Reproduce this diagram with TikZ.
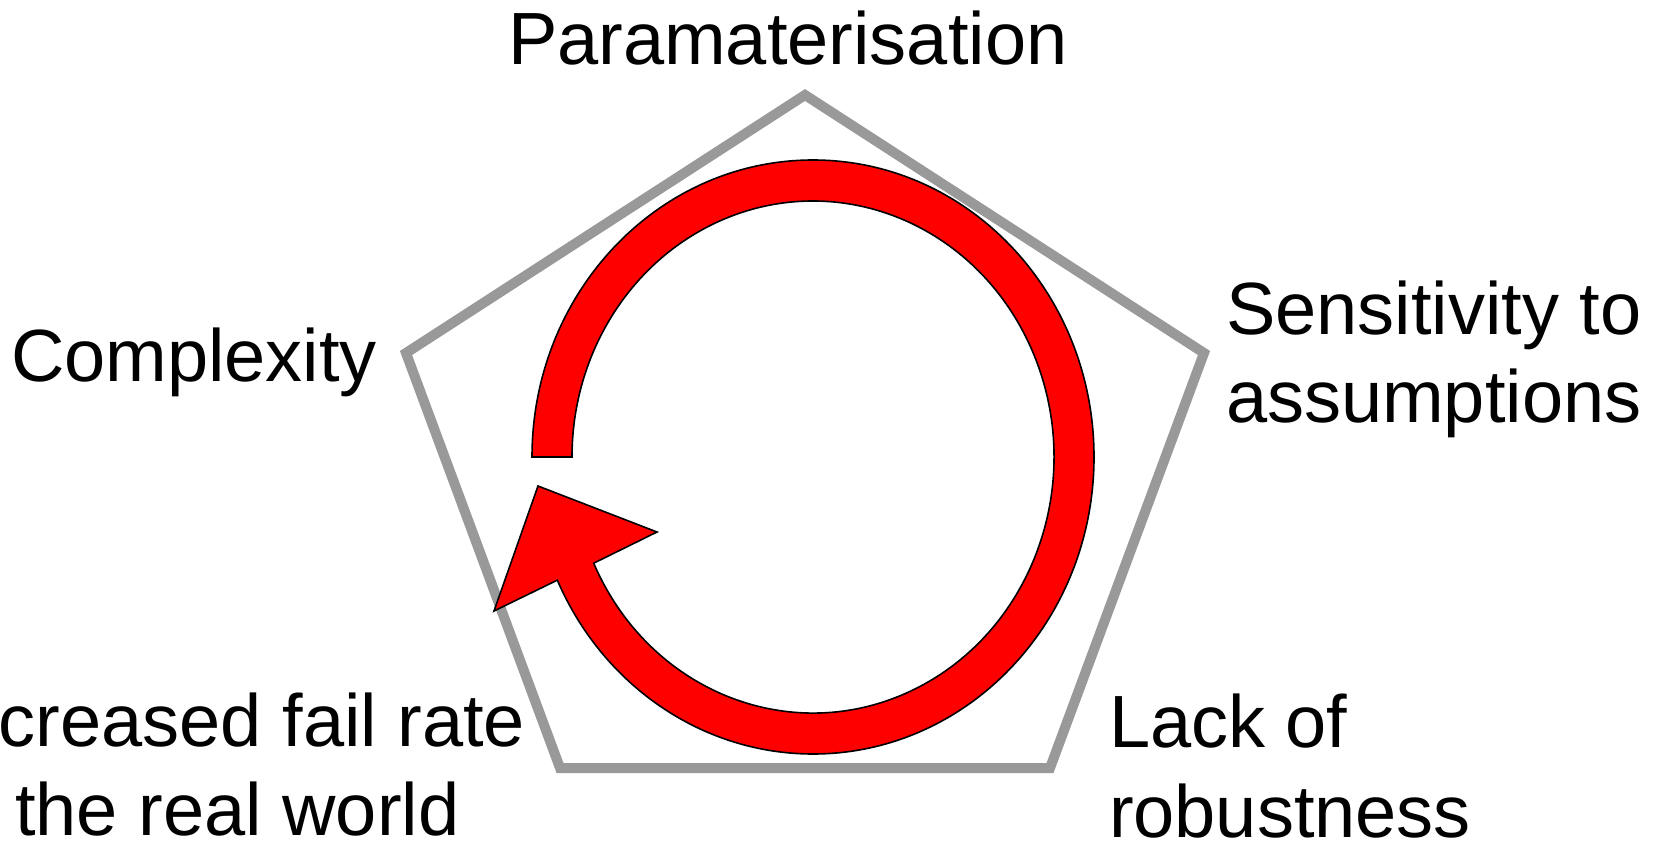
\documentclass[tikz,border=0pt]{standalone}
\usepackage{fontspec}
\setmainfont{Liberation Sans}
\definecolor{pentgray}{HTML}{999999}
\definecolor{loopred}{HTML}{FF0000}
\tikzset{
  lbl/.style={anchor=base west, inner sep=0pt, outer sep=0pt, font=\fontsize{37}{44}\selectfont},
  pentagon/.style={draw=pentgray, line width=5pt, line join=miter},
  loop/.style={draw=black, fill=loopred, line width=0.8pt, line join=miter}
}
\begin{document}
\begin{tikzpicture}[x=0.5pt,y=0.5pt]
\useasboundingbox (0,0) rectangle (1664,842);
\clip (0,0) rectangle (1664,842);
% pentagon
\coordinate (pT) at (805,747);
\coordinate (pR) at (1204,489);
\coordinate (pBR) at (1050,74);
\coordinate (pBL) at (560,74);
\coordinate (pL) at (406,489);
\draw[pentagon] (pT) -- (pR) -- (pBR) -- (pBL) -- (pL) -- cycle;
% circular arrow
\coordinate (ostart) at (532,385);
\coordinate (onotch) at (557.3,261.8);
\coordinate (hbl) at (494,231);
\coordinate (htip) at (538,356);
\coordinate (hr) at (657,310);
\coordinate (inotch) at (593.7,278.8);
\path[loop] (ostart)
  arc[start angle=180, end angle=-155.5, x radius=140.5pt, y radius=148.5pt]
  -- (hbl) -- (htip) -- (hr) -- (inotch)
  arc[start angle=-155.5, end angle=180, x radius=120.5pt, y radius=128pt]
  -- cycle;
% labels
\node[lbl] (param) at (508,777) {Paramaterisation};
\node[lbl] (compl) at (11,460) {Complexity};
\node[lbl] (sens1) at (1226,508) {Sensitivity to};
\node[lbl] (sens2) at (1226,420) {assumptions};
\node[lbl] (lack1) at (1109,95) {Lack of};
\node[lbl] (lack2) at (1109,5) {robustness};
\node[lbl] (fail1) at (-63,96) {Increased fail rate};
\node[lbl] (fail2) at (-63,7) {in the real world};
\end{tikzpicture}
\end{document}
